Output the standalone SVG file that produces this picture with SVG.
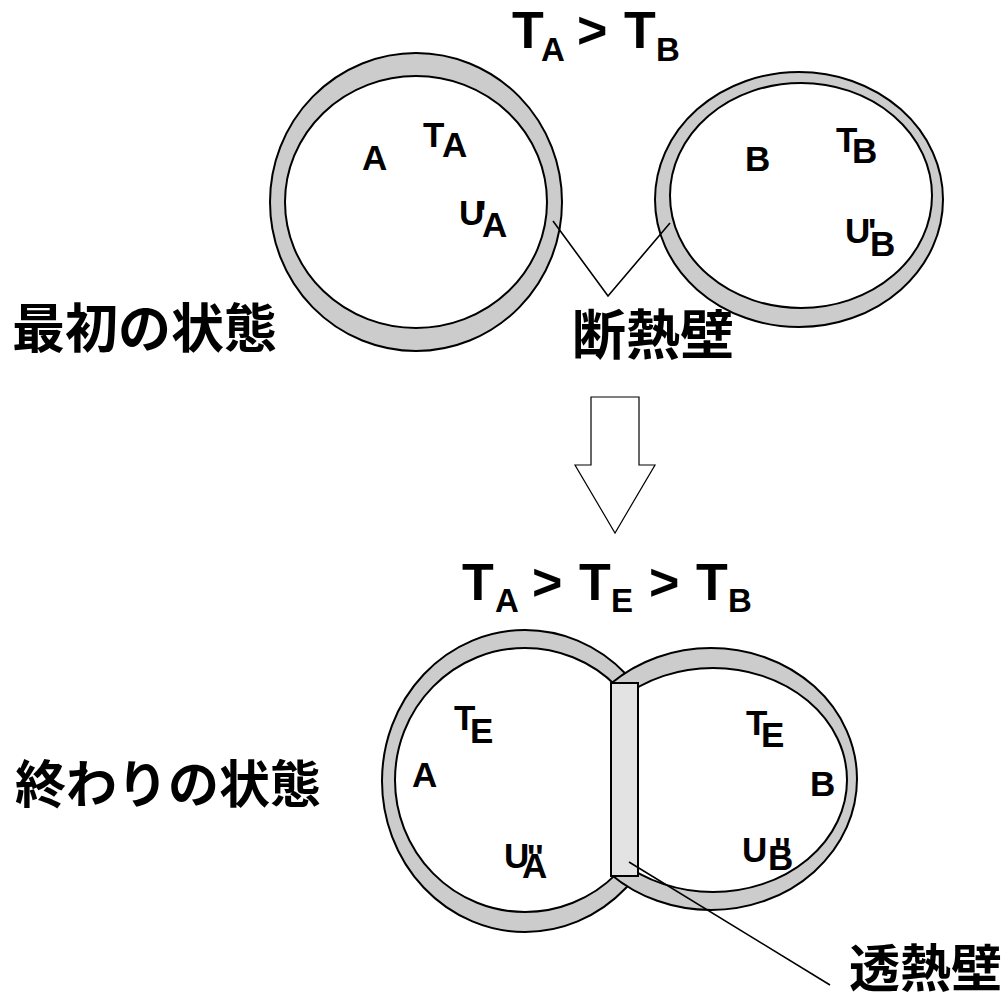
<svg xmlns="http://www.w3.org/2000/svg" width="1008" height="999" viewBox="0 0 1008 999">
<style>
.band{fill:#cccccc;stroke:#000;stroke-width:2}
.hole{fill:#fff;stroke:#000;stroke-width:2}
.lbl{font-family:"Liberation Sans",Arial,sans-serif;font-weight:bold;fill:#000}
.big{font-size:52px}
.sub{font-size:33px}
.in{font-size:35px}
.jp{font-family:"Noto Sans CJK JP","Noto Sans CJK SC",sans-serif;font-weight:bold;fill:#000}
.ln{fill:none;stroke:#000;stroke-width:1.6}
</style>
<defs>
<clipPath id="rightClip"><rect x="611" y="600" width="300" height="350"/></clipPath>
</defs>
<rect width="1008" height="999" fill="#fff"/>

<g id="title-top">
<text class="lbl big" x="512" y="48">T</text>
<text class="lbl sub" x="541" y="61">A</text>
<text class="lbl big" x="577" y="48">&gt;</text>
<text class="lbl big" x="624" y="48">T</text>
<text class="lbl sub" x="656" y="61">B</text>
</g>

<g id="vessel-A-initial">
<ellipse class="band" cx="416" cy="202" rx="146" ry="149"/>
<ellipse class="hole" cx="416" cy="202" rx="131" ry="126"/>
<text class="lbl in" x="362" y="170">A</text>
<text class="lbl in" x="423" y="147">T</text>
<text class="lbl in" x="442" y="157">A</text>
<text class="lbl in" x="459" y="225">U</text>
<text class="lbl in" x="478" y="225">'</text>
<text class="lbl in" x="482" y="237">A</text>
</g>

<g id="vessel-B-initial">
<ellipse class="band" cx="799" cy="199.5" rx="144" ry="127.5"/>
<ellipse class="hole" cx="801" cy="195.5" rx="131" ry="112.5"/>
<text class="lbl in" x="745" y="171">B</text>
<text class="lbl in" x="836" y="152">T</text>
<text class="lbl in" x="852" y="163">B</text>
<text class="lbl in" x="845" y="243">U</text>
<text class="lbl in" x="868" y="243">'</text>
<text class="lbl in" x="870" y="256">B</text>
</g>

<g id="label-initial">
<text class="jp" x="12" y="348" font-size="53">最初の状態</text>
</g>
<g id="label-adiabatic">
<text class="jp" x="572" y="355" font-size="54">断熱壁</text>
</g>

<g id="arrow-down">
<polygon points="591,397 639,397 639,465 655,465 615,533 575,465 591,465" fill="#fff" stroke="#000" stroke-width="1.2"/>
</g>

<g id="title-bottom">
<text class="lbl big" x="462" y="600">T</text>
<text class="lbl sub" x="495" y="612">A</text>
<text class="lbl big" x="532" y="600">&gt;</text>
<text class="lbl big" x="579" y="600">T</text>
<text class="lbl sub" x="611" y="612">E</text>
<text class="lbl big" x="649" y="600">&gt;</text>
<text class="lbl big" x="696" y="600">T</text>
<text class="lbl sub" x="728" y="612">B</text>
</g>

<g id="vessel-A-final">
<ellipse class="band" cx="525" cy="781" rx="143" ry="151"/>
<ellipse class="hole" cx="525" cy="780" rx="130" ry="132"/>
</g>

<g id="vessel-B-final" clip-path="url(#rightClip)">
<ellipse class="band" cx="711" cy="779" rx="146" ry="131"/>
<ellipse class="hole" cx="713" cy="780" rx="134" ry="112"/>
</g>

<g id="diathermal-wall">
<rect x="611" y="683" width="27" height="193" fill="#e3e3e3" stroke="#000" stroke-width="2"/>
</g>

<g id="labels-A-final">
<text class="lbl in" x="454" y="730">T</text>
<text class="lbl in" x="470" y="743">E</text>
<text class="lbl in" x="412" y="787">A</text>
<text class="lbl in" x="504" y="868">U</text>
<text class="lbl in" x="522" y="878">A</text>
<text class="lbl in" x="527" y="869">''</text>
</g>

<g id="labels-B-final">
<text class="lbl in" x="746" y="735">T</text>
<text class="lbl in" x="761" y="747">E</text>
<text class="lbl in" x="810" y="796">B</text>
<text class="lbl in" x="742" y="862">U</text>
<text class="lbl in" x="768" y="870">B</text>
<text class="lbl in" x="774" y="862">''</text>
</g>

<g id="label-final">
<text class="jp" x="15" y="803" font-size="51">終わりの状態</text>
</g>
<g id="label-diathermal">
<text class="jp" x="849" y="987" font-size="51">透熱壁</text>
</g>

<g id="connectors">
<polyline class="ln" points="553,221 608,296 670,223"/>
<line class="ln" x1="629" y1="862" x2="830" y2="985"/>
</g>
</svg>
